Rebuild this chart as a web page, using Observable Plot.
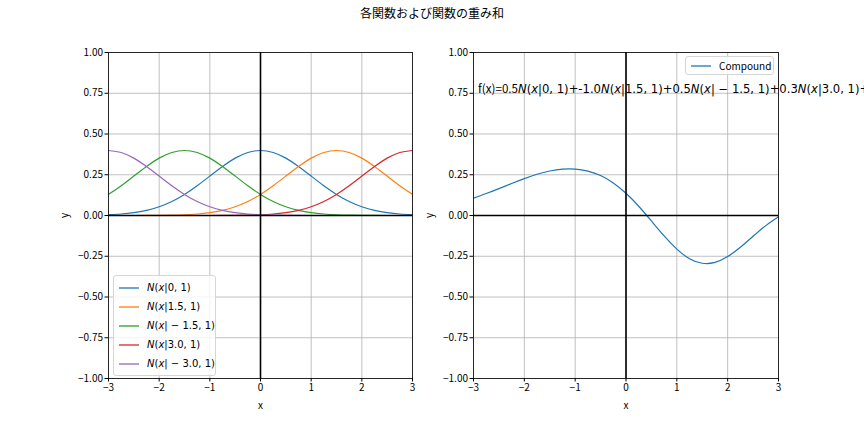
<!DOCTYPE html>
<html><head><meta charset="utf-8">
<script src="https://cdn.jsdelivr.net/npm/d3@7"></script>
<script src="https://cdn.jsdelivr.net/npm/@observablehq/plot@0.6"></script>
<style>
body{margin:0;background:#fff;}
#wrap{position:relative;width:864px;height:432px;overflow:hidden;font-family:"Noto Sans CJK JP",sans-serif;}
.pl{position:absolute;top:0;}
.pl svg{overflow:visible;}
#title{position:absolute;top:5px;left:0;width:864px;text-align:center;font-size:12px;line-height:16px;}
.legend{position:absolute;background:rgba(255,255,255,0.8);border:1px solid #d6d6d6;border-radius:3px;box-sizing:border-box;padding:2px 0;}
.row{display:flex;align-items:center;height:19px;white-space:nowrap;}
.sw{display:block;margin:0 8px 0 5px;}
.m{font-family:"DejaVu Sans";font-size:10px;}
.t{font-family:"Noto Sans CJK JP";font-size:10px;}
</style></head>
<body>
<div id="wrap">
  <div id="title"></div>
  <div id="left" class="pl" style="left:0"></div>
  <div id="right" class="pl" style="left:432px"></div>
  <div id="leg1" class="legend" style="left:113px;top:275px;width:103px;"></div>
  <div id="leg2" class="legend" style="left:685px;top:56px;width:89px;padding:0;"></div>
</div>
<script>
const titleText = "各関数および関数の重み和";
const xs = [-3,-2.75,-2.5,-2.25,-2,-1.75,-1.5,-1.25,-1,-0.75,-0.5,-0.25,0,0.25,0.5,0.75,1,1.25,1.5,1.75,2,2.25,2.5,2.75,3];
const nA = [0.0044,0.0091,0.0175,0.0317,0.0540,0.0863,0.1295,0.1826,0.2420,0.3011,0.3521,0.3867,0.3989,0.3867,0.3521,0.3011,0.2420,0.1826,0.1295,0.0863,0.0540,0.0317,0.0175,0.0091,0.0044];
const nB = [0,0,0.0001,0.0004,0.0009,0.0020,0.0044,0.0091,0.0175,0.0317,0.0540,0.0863,0.1295,0.1826,0.2420,0.3011,0.3521,0.3867,0.3989,0.3867,0.3521,0.3011,0.2420,0.1826,0.1295];
const nC = [0.1295,0.1826,0.2420,0.3011,0.3521,0.3867,0.3989,0.3867,0.3521,0.3011,0.2420,0.1826,0.1295,0.0863,0.0540,0.0317,0.0175,0.0091,0.0044,0.0020,0.0009,0.0004,0.0001,0,0];
const nD = [0,0,0,0,0,0,0,0,0.0001,0.0004,0.0009,0.0020,0.0044,0.0091,0.0175,0.0317,0.0540,0.0863,0.1295,0.1826,0.2420,0.3011,0.3521,0.3867,0.3989];
const nE = [0.3989,0.3867,0.3521,0.3011,0.2420,0.1826,0.1295,0.0863,0.0540,0.0317,0.0175,0.0091,0.0044,0.0020,0.0009,0.0004,0.0001,0,0,0,0,0,0,0,0];
const compound = [0.1069,0.1346,0.1649,0.1961,0.2263,0.2528,0.2728,0.2842,0.2850,0.2727,0.2451,0.1999,0.1365,0.0568,-0.0336,-0.1252,-0.2061,-0.2650,-0.2931,-0.2878,-0.2520,-0.1948,-0.1276,-0.0620,-0.0076];
const seriesNames = ["N(x|0,1)","N(x|1.5,1)","N(x|-1.5,1)","N(x|3.0,1)","N(x|-3.0,1)"];
const seriesLabels = ["<i>N</i>(<i>x</i>|0, 1)","<i>N</i>(<i>x</i>|1.5, 1)","<i>N</i>(<i>x</i>| − 1.5, 1)","<i>N</i>(<i>x</i>|3.0, 1)","<i>N</i>(<i>x</i>| − 3.0, 1)"];
const colors = ["#1f77b4","#ff7f0e","#2ca02c","#d62728","#9467bd"];
const compoundName = "Compound";
const xTicks = [-3,-2,-1,0,1,2,3];
const yTicks = [-1,-0.75,-0.5,-0.25,0,0.25,0.5,0.75,1];
const annotation = {x:-2.9, y:0.75, parts:[["f(x)=0.5","t"],["N","mi"],["(","m"],["x","mi"],["|0, 1)+-1.0","m"],["N","mi"],["(","m"],["x","mi"],["|1.5, 1)+0.5","m"],["N","mi"],["(","m"],["x","mi"],["| − 1.5, 1)+0.3","m"],["N","mi"],["(","m"],["x","mi"],["|3.0, 1)+0.1","m"],["N","mi"],["(","m"],["x","mi"],["| − 3.0, 1)","m"]]};

document.getElementById("title").textContent = titleText;
const allSeries = [nA,nB,nC,nD,nE];
const fmtX = d3.format("d");
const fmtY = d3.format(".2f");

function base(marks, ml, mr) {
  return Plot.plot({
    width: 432, height: 432,
    marginLeft: ml, marginRight: mr, marginTop: 52, marginBottom: 54,
    style: {fontFamily: "Noto Sans CJK JP", fontSize: "10px", background: "transparent", overflow: "visible"},
    x: {domain: [-3, 3]},
    y: {domain: [-1, 1]},
    marks: [
      Plot.gridX(xTicks, {stroke: "#b0b0b0", strokeOpacity: 1, strokeWidth: 0.8}),
      Plot.gridY(yTicks, {stroke: "#b0b0b0", strokeOpacity: 1, strokeWidth: 0.8}),
      ...marks,
      Plot.ruleY([0], {stroke: "black", strokeWidth: 1.6}),
      Plot.ruleX([0], {stroke: "black", strokeWidth: 1.6}),
      Plot.frame({stroke: "black", strokeWidth: 0.8}),
      Plot.axisX(xTicks, {tickFormat: fmtX, tickSize: 3.5, tickPadding: 2, label: "x", labelAnchor: "center", labelArrow: "none", labelOffset: 30, fill: "black"}),
      Plot.axisY(yTicks, {tickFormat: fmtY, tickSize: 3.5, tickPadding: 2, label: "y", labelAnchor: "center", labelArrow: "none", labelOffset: 48, fill: "black"})
    ]
  });
}

const leftMarks = allSeries.map((s, i) => Plot.line(xs.map((x, j) => ({x, y: s[j]})), {x: "x", y: "y", stroke: colors[i], strokeWidth: 1.2, curve: "natural"}));
const left = base(leftMarks, 108, 20);
document.getElementById("left").appendChild(left);

const right = base([Plot.line(xs.map((x, j) => ({x, y: compound[j]})), {x: "x", y: "y", stroke: colors[0], strokeWidth: 1.2, curve: "natural"})], 41, 86);
document.getElementById("right").appendChild(right);

// annotation placed through the plot's scales
const sx = right.scale("x"), sy = right.scale("y");
const txt = d3.select(right).append("text")
  .attr("x", sx.apply(annotation.x)).attr("y", sy.apply(annotation.y))
  .attr("text-anchor", "start")
  .attr("font-size", 11.6).attr("fill", "black");
annotation.parts.forEach(([s, k]) => {
  txt.append("tspan").text(s)
    .attr("font-family", k === "t" ? "Noto Sans CJK JP" : "DejaVu Sans")
    .attr("font-style", k === "mi" ? "italic" : "normal");
});

// legends
const swatch = c => `<svg class="sw" width="20" height="4"><line x1="0" x2="20" y1="2" y2="2" stroke="${c}" stroke-width="1.3"/></svg>`;
const leg1 = document.getElementById("leg1");
seriesLabels.forEach((lab, i) => {
  const r = document.createElement("div"); r.className = "row";
  r.innerHTML = `${swatch(colors[i])}<span class="m">${lab}</span>`;
  leg1.appendChild(r);
});
const leg2 = document.getElementById("leg2");
const r2 = document.createElement("div"); r2.className = "row"; r2.style.height = "17px";
r2.innerHTML = `${swatch(colors[0])}<span class="t">${compoundName}</span>`;
leg2.appendChild(r2);
</script>
</body></html>
